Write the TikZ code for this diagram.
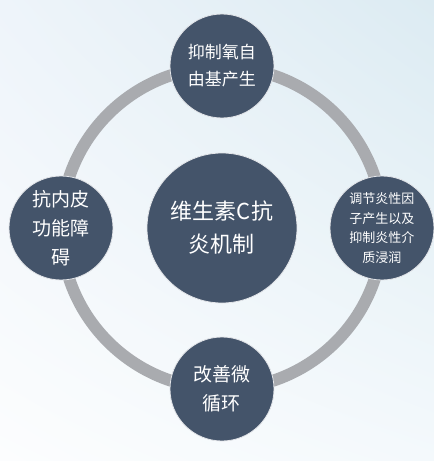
\documentclass[tikz,border=0pt]{standalone}
\usepackage{fontspec}
\setmainfont{Noto Sans CJK SC}
\usetikzlibrary{shadings}
\definecolor{slate}{HTML}{44546A}
\definecolor{ringgray}{HTML}{A9ABAF}
\definecolor{bgtr}{HTML}{DCEBF2}
\definecolor{bgtl}{HTML}{EEF4FA}
\definecolor{bgbr}{HTML}{F4F9FC}
\definecolor{bgbl}{HTML}{FCFDFE}
\tikzset{
	disc/.style = {circle, fill = slate, draw = white!85!slate, line width = 0.8pt,
		text = white, align = center, inner sep = 0pt, minimum size = 104pt},
	hub/.style = {disc, minimum size = 150pt}
}
\begin{document}
\begin{tikzpicture}[x = 1pt, y = 1pt]
	% background
	\shade[upper right = bgtr, upper left = bgtl, lower right = bgbr, lower left = bgbl]
		(-222, -233) rectangle (212, 228);
	\useasboundingbox (-222, -233) rectangle (212, 228);
	% ring
	\draw[ringgray, line width = 12pt] (0, 0) circle (161);
	% the middle
	\node[hub, font = \fontsize{22}{33}\selectfont] (vitc) at (0, 0) {维生素C抗\\炎机制};
	% the four around it
	\node[disc, font = \fontsize{17}{27}\selectfont] (radical) at (0, 162) {抑制氧自\\由基产生};
	\node[disc, font = \fontsize{13}{19.5}\selectfont] (factor) at (160, 0) {调节炎性因\\子产生以及\\抑制炎性介\\质浸润};
	\node[disc, font = \fontsize{19}{29.5}\selectfont] (micro) at (0, -161) {改善微\\循环};
	\node[disc, font = \fontsize{19}{29}\selectfont] (endo) at (-161, 0) {抗内皮\\功能障\\碍};
\end{tikzpicture}
\end{document}
